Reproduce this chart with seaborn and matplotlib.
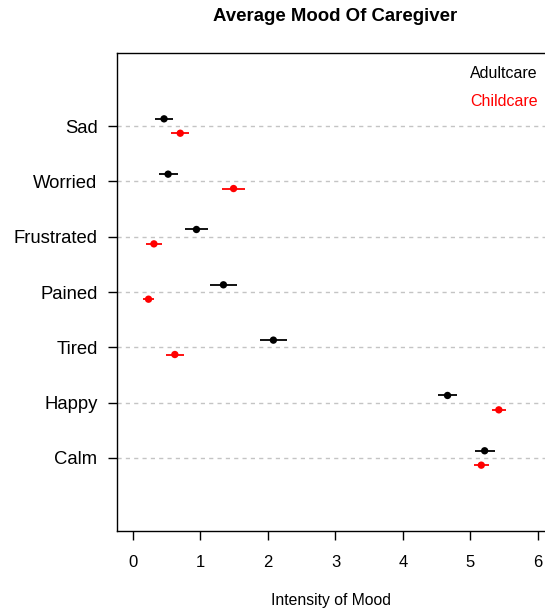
import numpy as np
import pandas as pd
import matplotlib
matplotlib.use("Agg")
import matplotlib.pyplot as plt
import seaborn as sns

# moods, listed from bottom (Calm) to top (Sad)
moods = ["Calm", "Happy", "Tired", "Pained", "Frustrated", "Worried", "Sad"]
adult_mean = [5.21, 4.66, 2.08, 1.34, 0.94, 0.52, 0.46]
adult_err = [0.15, 0.145, 0.205, 0.20, 0.17, 0.14, 0.14]
child_mean = [5.16, 5.42, 0.62, 0.23, 0.31, 1.49, 0.70]
child_err = [0.11, 0.10, 0.13, 0.08, 0.12, 0.17, 0.13]

sns.set_style("white")
plt.rcParams['font.family'] = ['Liberation Sans', 'DejaVu Sans']
plt.rcParams['text.color'] = 'black'
plt.rcParams['xtick.color'] = 'black'
plt.rcParams['ytick.color'] = 'black'
plt.rcParams['axes.labelcolor'] = 'black'

ypos = np.arange(1, len(moods) + 1)
off = 0.13

df = pd.concat([
    pd.DataFrame({"mood": moods, "y": ypos + off, "mean": adult_mean,
                  "err": adult_err, "group": "Adultcare"}),
    pd.DataFrame({"mood": moods, "y": ypos - off, "mean": child_mean,
                  "err": child_err, "group": "Childcare"}),
])
pal = {"Adultcare": "black", "Childcare": "red"}

fig = plt.figure(figsize=(5.45, 6.09), dpi=100)
ax = fig.add_axes([117 / 545, 1 - 531 / 609, 1 - 117 / 545, (531 - 53) / 609])

# dashed guide lines at each mood
for y in ypos:
    ax.axhline(y, color="#C4C4C4", lw=1, ls=(0, (3, 3)), zorder=0)

for g, sub in df.groupby("group"):
    ax.hlines(sub["y"], sub["mean"] - sub["err"], sub["mean"] + sub["err"],
              color=pal[g], lw=1.3, zorder=2)

sns.scatterplot(data=df, x="mean", y="y", hue="group", palette=pal,
                s=28, edgecolor="none", legend=False, ax=ax, zorder=3)

ax.set_xlim(-0.237, 6.104)
ax.set_ylim(-0.32, 8.32)
ax.set_xticks(range(0, 7))
ax.set_yticks(ypos)
ax.set_yticklabels(moods)
ax.tick_params(axis="both", direction="out", length=6.5, width=1, color="black",
               labelcolor="black", left=True, bottom=True)
ax.tick_params(axis="x", labelsize=12, pad=10.5)
ax.tick_params(axis="y", labelsize=13.3, pad=7.5)
ax.set_xlabel("Intensity of Mood", fontsize=11.3, labelpad=16.5, color="black")
ax.set_ylabel("")
for s in ["left", "bottom", "top"]:
    ax.spines[s].set_color("black")
    ax.spines[s].set_linewidth(1)
ax.spines["right"].set_visible(False)

ax.text(6.0, 7.95, "Adultcare", color="black", ha="right", va="center", fontsize=11.5)
ax.text(6.0, 7.45, "Childcare", color="red", ha="right", va="center", fontsize=11.5)

fig.text(335 / 545, 1 - 21 / 609, "Average Mood Of Caregiver", ha="center",
         va="baseline", fontsize=13.4, fontweight="bold", color="black")

fig.savefig("out.png", dpi=100)
